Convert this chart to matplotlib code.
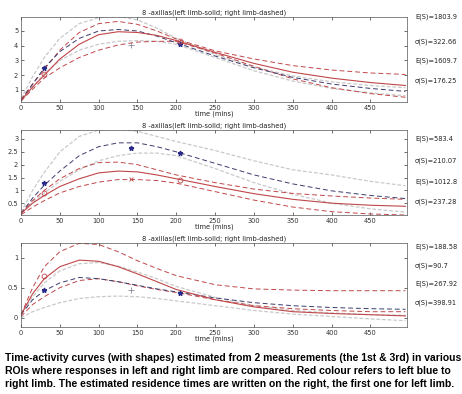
import matplotlib
matplotlib.use("Agg")
import matplotlib.pyplot as plt

plt.rcParams['font.family'] = ['DejaVu Sans']

# time grid (mins)
t = [0, 15, 30, 50, 75, 100, 125, 150, 175, 200, 250, 300, 350, 400, 450, 495]

# ---- panel 1 ----
p1_left = [0.3, 1.2, 2.0, 3.1, 4.1, 4.75, 4.95, 4.9, 4.7, 4.35, 3.55, 2.8, 2.2, 1.8, 1.5, 1.3]
p1_left_hi = [0.35, 1.4, 2.4, 3.7, 4.9, 5.5, 5.65, 5.45, 5.0, 4.45, 3.65, 3.1, 2.65, 2.35, 2.15, 2.05]
p1_left_lo = [0.25, 1.05, 1.8, 2.5, 3.2, 3.7, 4.05, 4.25, 4.3, 4.3, 3.5, 2.6, 1.75, 1.15, 0.75, 0.5]
p1_right = [0.3, 1.4, 2.5, 3.6, 4.5, 5.0, 5.1, 5.0, 4.65, 4.2, 3.3, 2.5, 1.85, 1.4, 1.1, 0.9]
p1_grey_hi = [0.4, 1.9, 3.2, 4.5, 5.5, 5.9, 6.0, 5.75, 5.2, 4.5, 3.4, 2.55, 1.95, 1.55, 1.3, 1.15]
p1_grey_lo = [0.2, 1.2, 2.1, 3.0, 3.7, 4.1, 4.3, 4.35, 4.3, 4.1, 3.2, 2.3, 1.6, 1.1, 0.8, 0.6]
p1_star = ([30, 205], [2.5, 4.15])
p1_circ = ([30, 205], [2.05, 4.35])
p1_plus = ([142], [4.05])

# ---- panel 2 ----
p2_left = [0.1, 0.5, 0.8, 1.15, 1.45, 1.68, 1.75, 1.72, 1.6, 1.45, 1.15, 0.87, 0.65, 0.5, 0.42, 0.38]
p2_left_hi = [0.1, 0.6, 1.0, 1.45, 1.85, 2.08, 2.1, 2.0, 1.8, 1.6, 1.3, 1.05, 0.88, 0.78, 0.7, 0.65]
p2_left_lo = [0.05, 0.35, 0.6, 0.9, 1.15, 1.32, 1.42, 1.42, 1.38, 1.28, 0.95, 0.62, 0.35, 0.17, 0.08, 0.04]
p2_right = [0.1, 0.7, 1.2, 1.75, 2.35, 2.7, 2.85, 2.85, 2.7, 2.5, 2.05, 1.6, 1.25, 0.98, 0.8, 0.68]
p2_grey_hi = [0.15, 1.0, 1.7, 2.5, 3.1, 3.35, 3.38, 3.3, 3.1, 2.9, 2.55, 2.15, 1.8, 1.6, 1.35, 1.18]
p2_grey_mid = [0.1, 0.55, 0.9, 1.35, 1.8, 2.15, 2.35, 2.45, 2.45, 2.35, 1.85, 1.3, 0.85, 0.5, 0.28, 0.15]
p2_star = ([30, 142, 205], [1.27, 2.65, 2.45])
p2_circ = ([30, 205], [0.88, 1.4])
p2_cross = ([142], [1.45])

# ---- panel 3 ----
p3_left = [0.05, 0.4, 0.65, 0.85, 0.96, 0.94, 0.85, 0.73, 0.6, 0.47, 0.3, 0.18, 0.1, 0.07, 0.05, 0.03]
p3_left_hi = [0.05, 0.5, 0.85, 1.1, 1.24, 1.22, 1.1, 0.95, 0.82, 0.7, 0.55, 0.48, 0.46, 0.45, 0.45, 0.45]
p3_left_lo = [0.02, 0.22, 0.35, 0.5, 0.62, 0.65, 0.6, 0.53, 0.47, 0.42, 0.3, 0.2, 0.15, 0.12, 0.1, 0.1]
p3_right = [0.05, 0.3, 0.45, 0.58, 0.67, 0.65, 0.6, 0.54, 0.48, 0.43, 0.33, 0.25, 0.2, 0.17, 0.15, 0.14]
p3_grey_hi = [0.05, 0.35, 0.58, 0.78, 0.9, 0.92, 0.86, 0.76, 0.65, 0.52, 0.34, 0.2, 0.12, 0.08, 0.05, 0.04]
p3_grey_lo = [0.0, 0.1, 0.17, 0.25, 0.32, 0.35, 0.36, 0.35, 0.32, 0.28, 0.2, 0.12, 0.06, 0.02, -0.02, -0.05]
p3_star = ([30, 205], [0.47, 0.42])
p3_circ = ([30], [0.7])
p3_plus = ([142], [0.47])

titles = ["8 -axillas(left limb-solid; right limb-dashed)"] * 3
ylims = [(0.18, 5.95), (0.04, 3.35), (-0.155, 1.245)]
yticks = [[1, 2, 3, 4, 5], [0.5, 1, 1.5, 2, 2.5, 3], [0, 0.5, 1]]
xticks = [0, 50, 100, 150, 200, 250, 300, 350, 400, 450]

notes = [
    ["E(S)=1803.9", "σ(S)=322.66", "E(S)=1609.7", "σ(S)=176.25"],
    ["E(S)=583.4", "σ(S)=210.07", "E(S)=1012.8", "σ(S)=237.28"],
    ["E(S)=188.58", "σ(S)=90.7", "E(S)=267.92", "σ(S)=398.91"],
]
note_y = [[17, 42, 61, 81], [139, 161, 182, 202], [247, 266, 284, 303]]

caption = ("Time-activity curves (with shapes) estimated from 2 measurements (the 1st & 3rd) in various\n"
           "ROIs where responses in left and right limb are compared. Red colour refers to left blue to\n"
           "right limb. The estimated residence times are written on the right, the first one for left limb.")

RED = '#c0474a'
NAVY = '#3c3c6e'
GREY = '#c9c9c9'

W, H = 462, 394
fig = plt.figure(figsize=(W / 100, H / 100), dpi=100)

boxes = [(17, 102), (130, 215), (243, 327)]
panels = [
    dict(left=p1_left, hi=p1_left_hi, lo=p1_left_lo, right=p1_right, greys=[p1_grey_hi, p1_grey_lo],
         star=p1_star, circ=p1_circ, plus=p1_plus, cross=None),
    dict(left=p2_left, hi=p2_left_hi, lo=p2_left_lo, right=p2_right, greys=[p2_grey_hi, p2_grey_mid],
         star=p2_star, circ=p2_circ, plus=None, cross=p2_cross),
    dict(left=p3_left, hi=p3_left_hi, lo=p3_left_lo, right=p3_right, greys=[p3_grey_hi, p3_grey_lo],
         star=p3_star, circ=p3_circ, plus=p3_plus, cross=None),
]

x0, x1 = 21, 407
for i, (top, bot) in enumerate(boxes):
    ax = fig.add_axes([x0 / W, 1 - bot / H, (x1 - x0) / W, (bot - top) / H])
    p = panels[i]
    for g in p['greys']:
        ax.plot(t, g, color=GREY, lw=0.9, ls=(0, (3, 1.5)))
    ax.plot(t, p['hi'], color=RED, lw=0.7, ls=(0, (5, 3)))
    ax.plot(t, p['lo'], color=RED, lw=0.7, ls=(0, (5, 3)))
    ax.plot(t, p['right'], color=NAVY, lw=0.7, ls=(0, (5, 3)))
    ax.plot(t, p['left'], color=RED, lw=0.8)
    ax.plot(*p['star'], ls='none', marker='*', color='#2a2a8a', ms=3.5)
    ax.plot(*p['circ'], ls='none', marker='o', mfc='none', mec=RED, ms=3.5, mew=0.6)
    if p['plus'] is not None:
        ax.plot(*p['plus'], ls='none', marker='+', color='#888899', ms=4, mew=0.6)
    if p['cross'] is not None:
        ax.plot(*p['cross'], ls='none', marker='x', color=RED, ms=3, mew=0.6)
    ax.set_xlim(0, 497)
    ax.set_ylim(*ylims[i])
    ax.set_xticks(xticks)
    ax.set_yticks(yticks[i])
    ax.set_yticklabels([f"{v:g}" for v in yticks[i]])
    ax.tick_params(direction='in', length=2, width=0.5, labelsize=4.8, pad=2,
                   top=True, right=True, colors='#333333')
    for s in ax.spines.values():
        s.set_linewidth(0.5)
        s.set_color('#555555')
    ax.set_title(titles[i], fontsize=4.8, pad=2, color='#222222')
    ax.set_xlabel("time (mins)", fontsize=4.8, labelpad=0, color='#222222')
    for txt, yy in zip(notes[i], note_y[i]):
        fig.text(415 / W, 1 - yy / H, txt, fontsize=4.8, va='center', ha='left', color='#222222')

fig.text(5 / W, 1 - 371 / H, caption, fontsize=7.45, fontweight='bold', family='Liberation Sans',
         va='center', ha='left', linespacing=1.38, color='black')

fig.savefig("out.png", dpi=100)
